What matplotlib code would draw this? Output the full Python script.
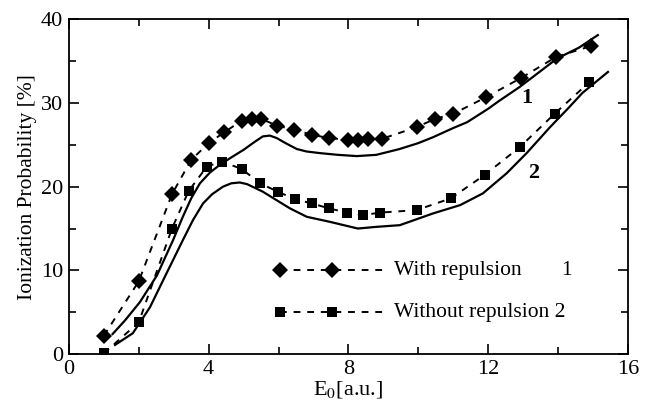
import matplotlib
matplotlib.use("Agg")
import matplotlib.pyplot as plt
from matplotlib.ticker import MultipleLocator

plt.rcParams["font.family"] = ["Liberation Serif", "DejaVu Serif"]
plt.rcParams["mathtext.fontset"] = "stix"

# measured points, with repulsion (diamonds)
x_with = [1.0, 2.0, 2.95, 3.5, 4.0, 4.45, 4.95, 5.25, 5.5, 5.95, 6.45, 6.95,
          7.45, 7.98, 8.27, 8.56, 8.95, 9.95, 10.48, 11.0, 11.95, 12.95, 13.95, 14.95]
y_with = [2.2, 8.7, 19.1, 23.2, 25.2, 26.5, 27.9, 28.1, 28.1, 27.3, 26.8, 26.2,
          25.8, 25.6, 25.6, 25.7, 25.7, 27.1, 28.1, 28.7, 30.7, 33.0, 35.5, 36.8]

# measured points, without repulsion (squares)
x_without = [1.0, 2.0, 2.95, 3.43, 3.95, 4.38, 4.95, 5.47, 5.98, 6.47, 6.95,
             7.45, 7.96, 8.42, 8.9, 9.95, 10.93, 11.9, 12.9, 13.9, 14.9]
y_without = [0.1, 3.8, 15.0, 19.5, 22.4, 23.0, 22.1, 20.4, 19.4, 18.5, 18.0,
             17.4, 16.9, 16.6, 16.9, 17.2, 18.6, 21.4, 24.7, 28.7, 32.5]

# theory curve 1
x_c1 = [1.25, 1.6, 2.03, 2.52, 2.98, 3.25, 3.5, 3.75, 4.04, 4.35, 4.69, 5.0,
        5.3, 5.55, 5.75, 5.95, 6.2, 6.52, 6.8, 7.2, 7.7, 8.24, 8.8, 9.47, 10.0,
        10.42, 11.0, 11.4, 12.0, 12.3, 12.9, 13.28, 13.97, 14.6, 15.14]
y_c1 = [2.4, 4.0, 6.2, 9.4, 13.6, 16.3, 18.6, 20.4, 21.7, 22.7, 23.6, 24.4,
        25.3, 26.0, 26.1, 25.8, 25.2, 24.5, 24.2, 24.0, 23.8, 23.65, 23.8, 24.5,
        25.2, 25.9, 27.0, 27.7, 29.3, 30.2, 31.9, 33.1, 35.3, 36.6, 38.1]

# theory curve 2
x_c2 = [1.32, 1.83, 2.32, 2.8, 3.26, 3.55, 3.84, 4.1, 4.41, 4.65, 4.89, 5.1,
        5.3, 5.55, 5.9, 6.33, 6.81, 7.47, 8.27, 8.8, 9.47, 10.42, 11.2, 11.85,
        12.53, 13.1, 13.77, 14.3, 14.7, 15.43]
y_c2 = [1.1, 2.5, 5.6, 9.7, 13.6, 16.0, 18.0, 19.1, 20.0, 20.4, 20.5, 20.3,
        19.9, 19.4, 18.5, 17.4, 16.4, 15.8, 15.0, 15.2, 15.4, 16.8, 17.8, 19.2,
        21.6, 24.0, 27.1, 29.4, 31.2, 33.7]

fig = plt.figure(figsize=(6.5, 4.08), dpi=100)
ax = fig.add_axes([0.106, 0.132, 0.86, 0.821])

dash = (0, (3.5, 3.5))
ax.plot(x_c1, y_c1, color="black", lw=1.6)
ax.plot(x_c2, y_c2, color="black", lw=1.6)
ax.plot(x_with, y_with, color="black", lw=1.4, linestyle=dash,
        marker="D", markersize=8, markeredgewidth=0)
ax.plot(x_without, y_without, color="black", lw=1.4, linestyle=dash,
        marker="s", markersize=7.5, markeredgewidth=0)

# curve labels
ax.text(13.1, 30.6, "1", fontsize=16, fontweight="bold", ha="center", va="center")
ax.text(13.3, 21.6, "2", fontsize=16, fontweight="bold", ha="center", va="center")

# hand-made legend
ax.plot([6.04, 7.53, 9.1], [10, 10, 10], color="black", lw=1.4, linestyle=dash,
        marker="D", markersize=8, markeredgewidth=0, markevery=[0, 1])
ax.plot([6.04, 7.53, 9.1], [5, 5, 5], color="black", lw=1.4, linestyle=dash,
        marker="s", markersize=7.5, markeredgewidth=0, markevery=[0, 1])
ax.text(9.3, 10, "With repulsion", fontsize=15.5, va="center")
ax.text(14.1, 10, "1", fontsize=15.5, va="center")
ax.text(9.3, 5, "Without repulsion 2", fontsize=15.5, va="center")

ax.set_xlim(0, 16)
ax.set_ylim(0, 40)
ax.xaxis.set_major_locator(MultipleLocator(4))
ax.xaxis.set_minor_locator(MultipleLocator(2))
ax.yaxis.set_major_locator(MultipleLocator(10))
ax.yaxis.set_minor_locator(MultipleLocator(5))
ax.tick_params(which="both", direction="in", top=True, right=True, width=1.2,
               labelsize=16, pad=4)
ax.tick_params(which="major", length=7)
ax.tick_params(which="minor", length=5)
for s in ax.spines.values():
    s.set_linewidth(1.3)

ax.set_xlabel("E$_0$[a.u.]", fontsize=16, labelpad=0)
ax.set_ylabel("Ionization Probability [%]", fontsize=15.5, labelpad=3)

fig.savefig("out.png", dpi=100)
